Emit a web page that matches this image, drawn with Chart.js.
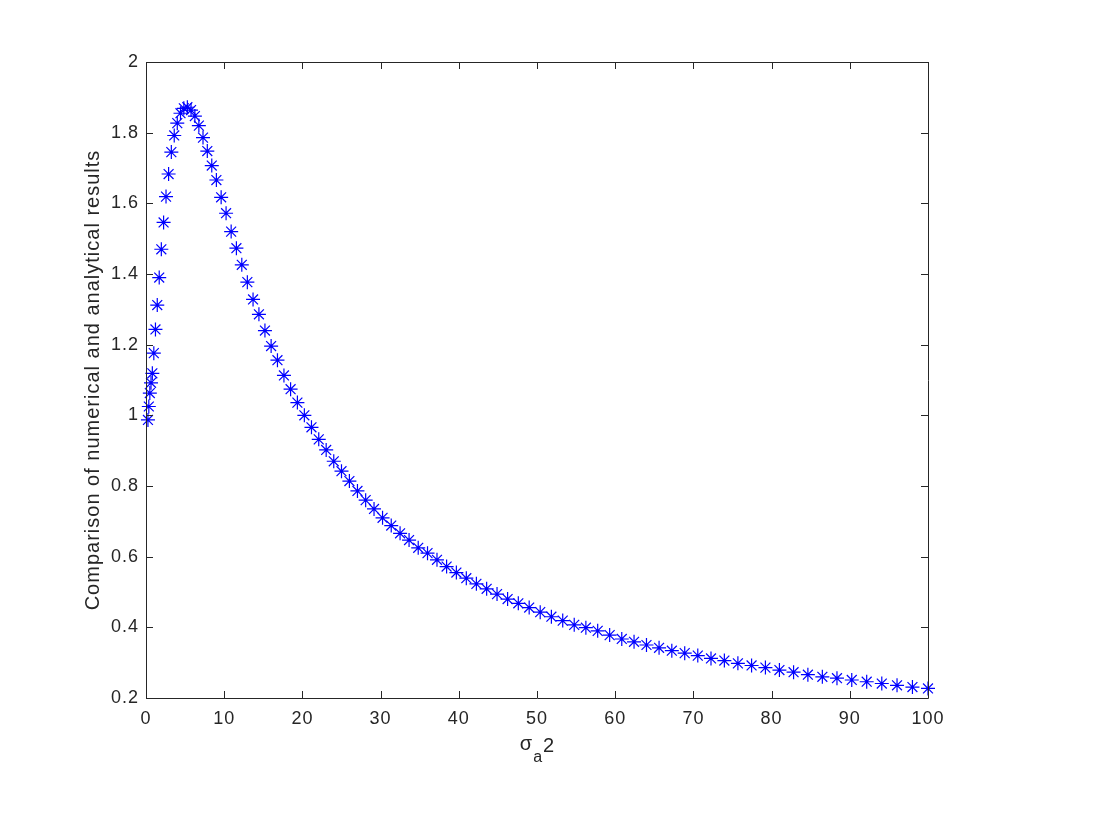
<!DOCTYPE html>
<html>
<head>
<meta charset="utf-8">
<script src="https://cdn.jsdelivr.net/npm/chart.js@4.4.1/dist/chart.umd.min.js"></script>
<style>
  body { margin: 0; background: #fff; }
  canvas { display: block; }
</style>
</head>
<body>
<canvas id="plot" width="1120" height="840"></canvas>
<script>
// sigma_a^2 values (x) and the ratio (y)
const sigmaSq = [0.25, 0.36, 0.49, 0.64, 0.81, 1, 1.21, 1.44, 1.69, 1.96, 2.25, 2.56, 2.89, 3.24, 3.61,
  4, 4.41, 4.84, 5.29, 5.76, 6.25, 6.76, 7.29, 7.84, 8.41, 9, 9.61, 10.24, 10.89, 11.56, 12.25, 12.96,
  13.69, 14.44, 15.21, 16, 16.81, 17.64, 18.49, 19.36, 20.25, 21.16, 22.09, 23.04, 24.01, 25, 26.01,
  27.04, 28.09, 29.16, 30.25, 31.36, 32.49, 33.64, 34.81, 36, 37.21, 38.44, 39.69, 40.96, 42.25, 43.56,
  44.89, 46.24, 47.61, 49, 50.41, 51.84, 53.29, 54.76, 56.25, 57.76, 59.29, 60.84, 62.41, 64, 65.61,
  67.24, 68.89, 70.56, 72.25, 73.96, 75.69, 77.44, 79.21, 81, 82.81, 84.64, 86.49, 88.36, 90.25, 92.16,
  94.09, 96.04, 98.01, 100];
const ratio = [0.987, 1.025, 1.063, 1.092, 1.119, 1.176, 1.243, 1.312, 1.390, 1.470, 1.546, 1.619, 1.683,
  1.745, 1.792, 1.827, 1.855, 1.869, 1.872, 1.864, 1.847, 1.820, 1.786, 1.748, 1.707, 1.666, 1.617, 1.572,
  1.520, 1.473, 1.426, 1.377, 1.328, 1.286, 1.240, 1.196, 1.156, 1.113, 1.074, 1.036, 1.000, 0.966, 0.932,
  0.902, 0.870, 0.842, 0.814, 0.786, 0.760, 0.735, 0.710, 0.688, 0.666, 0.647, 0.625, 0.610, 0.591, 0.572,
  0.555, 0.539, 0.523, 0.509, 0.494, 0.480, 0.468, 0.456, 0.443, 0.430, 0.419, 0.407, 0.399, 0.390, 0.378,
  0.367, 0.359, 0.350, 0.342, 0.334, 0.327, 0.320, 0.312, 0.306, 0.298, 0.292, 0.286, 0.279, 0.273, 0.266,
  0.260, 0.256, 0.251, 0.246, 0.241, 0.236, 0.231, 0.227];

const xTicks = [0, 10, 20, 30, 40, 50, 60, 70, 80, 90, 100];
const yTicks = [0.2, 0.4, 0.6, 0.8, 1, 1.2, 1.4, 1.6, 1.8, 2];

const axisColor = '#262626';
const fontFamily = '"Liberation Sans", Arial, sans-serif';

// matlab style box with inward ticks + the sigma_a 2 label
const matlabAxes = {
  id: 'matlabAxes',
  beforeDraw(chart) {
    chart.ctx.letterSpacing = '1px';
  },
  afterDraw(chart) {
    const { ctx, chartArea: a, scales } = chart;
    const len = 7;
    ctx.save();
    ctx.strokeStyle = axisColor;
    ctx.lineWidth = 1;
    ctx.beginPath();
    ctx.rect(a.left + 0.5, a.top + 0.5, a.right - a.left, a.bottom - a.top);
    xTicks.forEach(v => {
      const px = Math.round(scales.x.getPixelForValue(v)) + 0.5;
      ctx.moveTo(px, a.bottom); ctx.lineTo(px, a.bottom - len);
      ctx.moveTo(px, a.top); ctx.lineTo(px, a.top + len);
    });
    yTicks.forEach(v => {
      const py = Math.round(scales.y.getPixelForValue(v)) + 0.5;
      ctx.moveTo(a.left, py); ctx.lineTo(a.left + len, py);
      ctx.moveTo(a.right, py); ctx.lineTo(a.right - len, py);
    });
    ctx.stroke();

    // x label: sigma with subscript a, then 2
    const cx = (a.left + a.right) / 2;
    const base = 752;
    ctx.letterSpacing = '0px';
    ctx.fillStyle = axisColor;
    ctx.textBaseline = 'alphabetic';
    ctx.textAlign = 'left';
    ctx.font = '20px ' + fontFamily;
    const wS = ctx.measureText('\u03c3').width;
    const w2 = ctx.measureText('2').width;
    ctx.font = '16px ' + fontFamily;
    const wA = ctx.measureText('a').width;
    const x0 = cx - (wS + wA + w2 + 2) / 2;
    ctx.font = '20px ' + fontFamily;
    ctx.fillText('\u03c3', x0, base - 2);
    ctx.fillText('2', x0 + wS + wA + 2, base);
    ctx.font = '16px ' + fontFamily;
    ctx.fillText('a', x0 + wS + 1, base + 10);
    ctx.restore();
  }
};

new Chart(document.getElementById('plot'), {
  type: 'scatter',
  data: {
    datasets: [{
      data: sigmaSq.map((x, i) => ({ x: x, y: ratio[i] })),
      pointStyle: 'star',
      pointRadius: 7,
      pointBorderWidth: 1.2,
      borderColor: '#0000ff',
      backgroundColor: '#0000ff',
      showLine: false,
      clip: false
    }]
  },
  options: {
    responsive: false,
    animation: false,
    layout: { padding: { left: 0, right: 192, top: 62, bottom: 0 } },
    plugins: {
      legend: { display: false },
      tooltip: { enabled: false }
    },
    scales: {
      x: {
        type: 'linear',
        min: 0,
        max: 100,
        afterFit(scale) { scale.height = 142; },
        afterBuildTicks(scale) { scale.ticks = xTicks.map(v => ({ value: v })); },
        grid: { display: false, drawTicks: false },
        border: { display: false },
        ticks: {
          padding: 10,
          color: axisColor,
          font: { family: fontFamily, size: 18 },
          maxRotation: 0,
          callback: v => String(v)
        }
      },
      y: {
        type: 'linear',
        min: 0.2,
        max: 2,
        afterFit(scale) { scale.width = 146; },
        afterBuildTicks(scale) { scale.ticks = yTicks.map(v => ({ value: v })); },
        grid: { display: false, drawTicks: false },
        border: { display: false },
        ticks: {
          padding: 7,
          color: axisColor,
          font: { family: fontFamily, size: 18 },
          callback: v => String(parseFloat(v.toFixed(1)))
        },
        title: {
          display: true,
          text: 'Comparison of numerical and analytical results',
          color: axisColor,
          font: { family: fontFamily, size: 20 },
          padding: { top: 81, bottom: 0 }
        }
      }
    }
  },
  plugins: [matlabAxes]
});
</script>
</body>
</html>
